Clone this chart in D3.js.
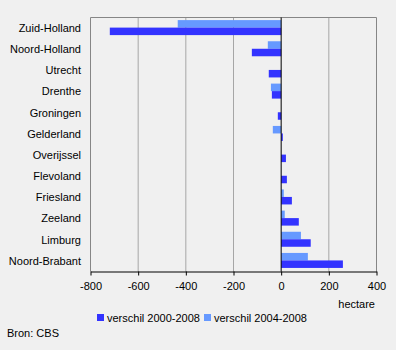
<!DOCTYPE html>
<html><head><meta charset="utf-8">
<script src="https://cdn.jsdelivr.net/npm/d3@7"></script>
<style>
body{margin:0;background:#f0f0f0;}
svg{display:block;font-family:"Liberation Sans",Arial,sans-serif;font-size:11px;}
</style></head>
<body><svg id="c" width="396" height="350"></svg>
<script>
const categories = ["Zuid-Holland","Noord-Holland","Utrecht","Drenthe","Groningen","Gelderland","Overijssel","Flevoland","Friesland","Zeeland","Limburg","Noord-Brabant"];
const series = ["verschil 2000-2008","verschil 2004-2008"];
const values2000 = [-719,-123,-52,-39,-14,7,20,24,45,74,124,259];
const values2004 = [-434,-56,0,-43,0,-35,0,0,11,15,83,112];
const xTicks = [-800,-600,-400,-200,0,200,400];
const colors = ["#3333ff","#6699ff"];

const svg = d3.select("#c");
const L=90.5, R=376.5, T=17.5, B=271.5;
const x = d3.scaleLinear().domain([-800,400]).range([L,R]);
const y = d3.scaleBand().domain(categories).range([T,B]).padding(0);
const sub = d3.scaleBand().domain([series[1],series[0]]).range([2.6,17.6]).padding(0);

// gridlines
svg.append("g").selectAll("line").data(xTicks.filter(d=>d!==0&&d!==-800&&d!==400)).join("line")
  .attr("x1",d=>x(d)).attr("x2",d=>x(d)).attr("y1",T).attr("y2",B)
  .attr("stroke","#a6a6a6").attr("stroke-width",1);
// border
svg.append("path").attr("d",`M${L},${B}V${T}H${R}V${B}`).attr("fill","none").attr("stroke","#868686").attr("stroke-width",1);

const rows = categories.map((c,i)=>({c, v:[values2000[i],values2004[i]]}));
const g = svg.append("g");
rows.forEach(r=>{
  [1,0].forEach(si=>{
    const v=r.v[si]; if(v===0) return;
    g.append("rect")
      .attr("x",x(Math.min(0,v))).attr("width",Math.abs(x(v)-x(0)))
      .attr("y",y(r.c)+sub(series[si])).attr("height",sub.bandwidth())
      .attr("fill",colors[si]);
  });
});
// zero line
svg.append("line").attr("x1",x(0)).attr("x2",x(0)).attr("y1",T).attr("y2",B).attr("stroke","#000").attr("stroke-width",1);

// x axis
const ax = svg.append("g").attr("transform",`translate(0,${B})`)
  .call(d3.axisBottom(x).tickValues(xTicks).tickFormat(d=>String(d)).tickSize(4).tickPadding(4).tickSizeOuter(0));
ax.select(".domain").attr("stroke","#000");
ax.selectAll("line").attr("stroke","#000");
ax.selectAll("text").attr("font-size","11px").attr("font-family","Liberation Sans, Arial, sans-serif").attr("fill","#000").attr("dy","0.95em");

// category labels
svg.append("g").selectAll("text").data(categories).join("text")
  .attr("x",81).attr("y",d=>y(d)+y.bandwidth()/2).attr("dy","0.35em")
  .attr("text-anchor","end").text(d=>d);

svg.append("text").attr("x",375).attr("y",308).attr("text-anchor","end").text("hectare");

// legend
const lg = svg.append("g");
[[97,0],[204,1]].forEach(([lx,si])=>{
  lg.append("rect").attr("x",lx).attr("y",314).attr("width",7).attr("height",7).attr("fill",colors[si]);
  lg.append("text").attr("x",lx+10).attr("y",322).text(series[si]);
});
svg.append("text").attr("x",7).attr("y",337).text("Bron: CBS");
</script></body></html>
